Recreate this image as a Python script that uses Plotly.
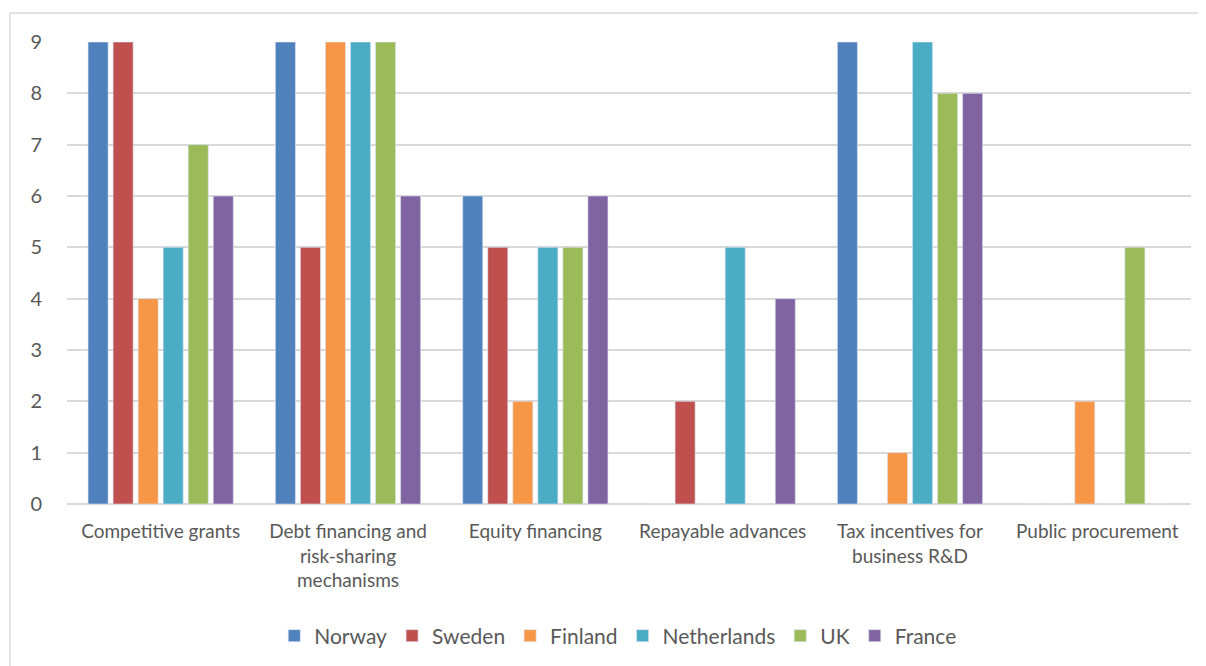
import plotly.graph_objects as go

categories = ["Competitive grants", "Debt financing and<br>risk-sharing<br>mechanisms",
              "Equity financing", "Repayable advances",
              "Tax incentives for<br>business R&D", "Public procurement"]
norway = [9, 9, 6, 0, 9, 0]
sweden = [9, 5, 5, 2, 0, 0]
finland = [4, 9, 2, 0, 1, 2]
netherlands = [5, 9, 5, 5, 9, 0]
uk = [7, 9, 5, 0, 8, 5]
france = [6, 6, 6, 4, 8, 0]
y_ticks = [0, 1, 2, 3, 4, 5, 6, 7, 8, 9]

series = [("Norway", norway, "#4F81BD"), ("Sweden", sweden, "#C0504D"),
          ("Finland", finland, "#F79646"), ("Netherlands", netherlands, "#4BACC6"),
          ("UK", uk, "#9BBB59"), ("France", france, "#8064A2")]

fig = go.Figure()
for name, vals, col in series:
    fig.add_trace(go.Bar(x=categories, y=vals, name=name,
                         marker=dict(color=col, line=dict(color="rgba(220,225,240,0.6)", width=1))))

# page has an 8px body offset
OFF = 8
W, H = 1206 - OFF, 666 - OFF
L, R, T, B = 67 - OFF, 15, 42 - OFF, 162
pw, ph = W - L - R, H - T - B

def px(x):
    return (x - OFF - L) / pw

def py(y):
    return (H - B - (y - OFF)) / ph

fig.update_layout(
    width=W, height=H,
    margin=dict(l=L, r=R, t=T, b=B, autoexpand=False),
    paper_bgcolor="white", plot_bgcolor="white",
    barmode="group", bargap=0.198, bargroupgap=0.2,
    font=dict(family="Lato, Open Sans, sans-serif", color="#595959", size=18),
    legend=dict(orientation="h", x=0.49, xanchor="center", y=py(636), yanchor="middle",
                font=dict(size=21, color="#595959")),
    xaxis=dict(showgrid=False, showline=False, ticks="", ticklabelstandoff=14,
               tickfont=dict(size=19, color="#595959")),
    yaxis=dict(range=[0, 9], tickvals=y_ticks, showgrid=True, gridcolor="#D9D9D9", gridwidth=1.5,
               zeroline=True, zerolinecolor="#D9D9D9", zerolinewidth=1.5,
               tickfont=dict(size=20, color="#595959"), ticklabelstandoff=24),
    shapes=[
        dict(type="line", xref="paper", yref="paper", x0=px(10), x1=px(1215), y0=py(13), y1=py(13),
             line=dict(color="#D9D9D9", width=1.5)),
        dict(type="line", xref="paper", yref="paper", x0=px(10), x1=px(10), y0=py(13), y1=py(680),
             line=dict(color="#D9D9D9", width=1.5)),
    ],
)

fig.write_html("out.html")
